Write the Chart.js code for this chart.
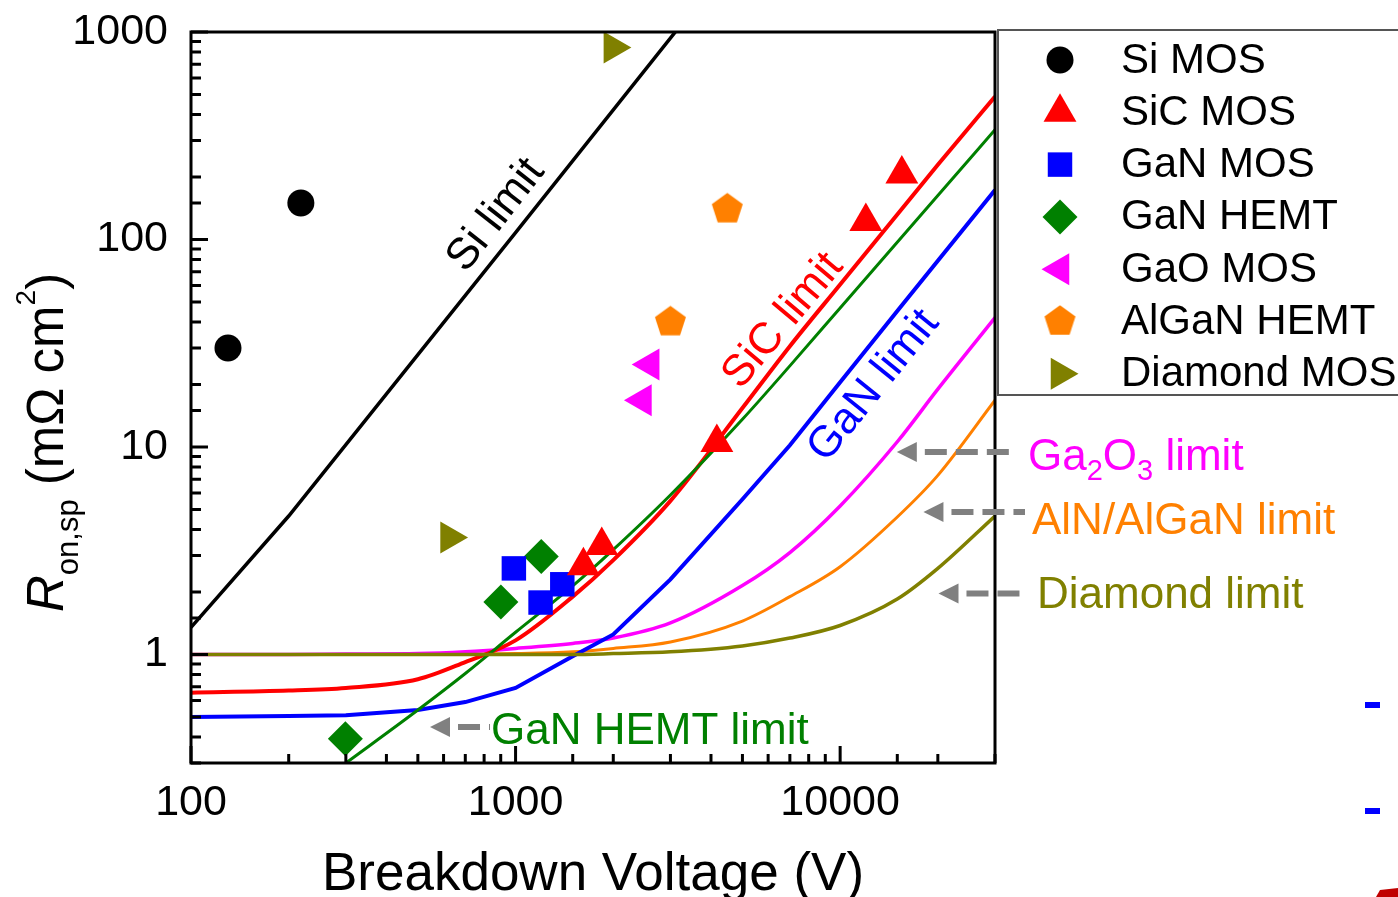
<!DOCTYPE html>
<html>
<head>
<meta charset="utf-8">
<title>Specific on-resistance vs breakdown voltage</title>
<script src="https://cdn.jsdelivr.net/npm/chart.js@4.4.1/dist/chart.umd.min.js"></script>
<style>
  html, body { margin: 0; padding: 0; background: #fff; overflow: hidden; }
  #wrap { width: 1398px; height: 897px; }
</style>
</head>
<body>
<div id="wrap"><canvas id="myChart" width="1398" height="897"></canvas></div>
<script>
// limit curves (V, mOhm cm2)
let limitV = [100, 200, 300, 500, 700, 1000, 1500, 2000, 3000, 5000, 7000, 10000, 15000, 20000, 30000];
let sicLimit = [0.655, 0.67, 0.69, 0.76, 0.92, 1.17, 1.9, 2.85, 5.5, 15.4, 30.6, 60.7, 132, 229, 488];
let ganLimit = [0.5, 0.505, 0.51, 0.54, 0.59, 0.69, 0.98, 1.25, 2.3, 5.6, 10.2, 20.5, 45.2, 79, 173];
let ga2o3Limit = [1.0, 1.0, 1.005, 1.01, 1.03, 1.07, 1.13, 1.2, 1.42, 2.15, 3.1, 5.2, 10.6, 19.0, 42];
let alnLimit = [1.0, 1.0, 1.0, 1.0, 1.005, 1.01, 1.03, 1.07, 1.15, 1.45, 1.9, 2.65, 4.6, 7.3, 16.8];
let diamondLimit = [1.0, 1.0, 1.0, 1.0, 1.0, 1.0, 1.0, 1.01, 1.03, 1.1, 1.2, 1.38, 1.85, 2.6, 4.65];

let siLimitV = [100, 200, 1000, 5000];
let siLimit = [1.35, 4.65, 108, 2550];

let ganHemtLimitV = [300, 500, 700, 1000, 1500, 2000, 3000, 5000, 7000, 10000, 20000, 30000];
let ganHemtLimit = [0.3, 0.54, 0.81, 1.28, 2.14, 3.2, 5.87, 13.6, 24.6, 46.8, 163, 338];

// reported devices
let siMosV = [130, 218];
let siMosR = [30, 150];
let sicMosV = [1618, 1843, 4170, 12000, 15490];
let sicMosR = [2.68, 3.35, 10.5, 122, 207];
let ganMosV = [988, 1194, 1393];
let ganMosR = [2.6, 1.78, 2.18];
let ganHemtV = [299, 901, 1200];
let ganHemtR = [0.393, 1.79, 2.97];
let gaoMosV = [2460, 2599];
let gaoMosR = [16.8, 25.0];
let alganHemtV = [3000, 4490];
let alganHemtR = [40, 140];
let diamondMosV = [626, 1994];
let diamondMosR = [3.66, 842];

let xTicks = { min: 100, max: 30000 };
let yTicks = { min: 0.3, max: 1000 };

function pts(xs, ys) {
    return xs.map((v, i) => ({ x: v, y: ys[i] }));
}

function makePentagon(r, color) {
    let c = document.createElement('canvas');
    c.width = c.height = Math.ceil(2 * r + 2);
    let g = c.getContext('2d');
    let cx = c.width / 2, cy = c.height / 2;
    g.fillStyle = color;
    g.beginPath();
    for (let i = 0; i < 5; i++) {
        let a = -Math.PI / 2 + i * 2 * Math.PI / 5;
        g.lineTo(cx + r * Math.cos(a), cy + r * Math.sin(a));
    }
    g.closePath();
    g.fill();
    return c;
}

function marker(label, xs, ys, color, style, radius, rotation) {
    return {
        label: label,
        data: pts(xs, ys),
        showLine: false,
        pointStyle: style,
        pointRadius: radius,
        pointRotation: rotation || 0,
        pointBackgroundColor: color,
        pointBorderColor: color,
        pointBorderWidth: 0,
        backgroundColor: color
    };
}

function limitLine(label, xs, ys, color, width, smooth) {
    return {
        label: label,
        data: pts(xs, ys),
        showLine: true,
        borderColor: color,
        borderWidth: width,
        pointRadius: 0,
        fill: false,
        cubicInterpolationMode: smooth ? 'monotone' : 'default',
        tension: 0
    };
}

Chart.defaults.font.family = '"Liberation Sans", Arial, sans-serif';
Chart.defaults.color = '#000';

const FONT = '"Liberation Sans", Arial, sans-serif';

function isDecade(v) {
    let l = Math.log10(v);
    return Math.abs(l - Math.round(l)) < 1e-6;
}

function drawRich(ctx, parts, x, y) {
    let cx = x;
    parts.forEach(p => {
        ctx.font = p.font;
        ctx.fillText(p.t, cx, y + (p.dy || 0));
        cx += ctx.measureText(p.t).width;
    });
}

function arrow(ctx, tipX, y, tailX) {
    ctx.fillStyle = '#808080';
    ctx.beginPath();
    ctx.moveTo(tipX, y);
    ctx.lineTo(tipX + 20, y - 10);
    ctx.lineTo(tipX + 20, y + 10);
    ctx.closePath();
    ctx.fill();
    ctx.strokeStyle = '#808080';
    ctx.lineWidth = 6;
    ctx.setLineDash([22, 9]);
    ctx.beginPath();
    ctx.moveTo(tipX + 28, y);
    ctx.lineTo(tailX, y);
    ctx.stroke();
    ctx.setLineDash([]);
}

function rotLabel(ctx, text, x, y, deg, color) {
    ctx.save();
    ctx.translate(x, y);
    ctx.rotate(deg * Math.PI / 180);
    ctx.fillStyle = color;
    ctx.font = '44px ' + FONT;
    ctx.textAlign = 'center';
    ctx.textBaseline = 'middle';
    ctx.fillText(text, 0, 0);
    ctx.restore();
}

const decorPlugin = {
    id: 'decor',
    afterDraw(chart) {
        const { ctx, chartArea: a, scales: { x, y } } = chart;
        ctx.save();

        // frame and inward ticks
        ctx.strokeStyle = '#000';
        ctx.lineWidth = 3;
        ctx.strokeRect(a.left, a.top, a.right - a.left, a.bottom - a.top);
        ctx.beginPath();
        x.ticks.forEach(t => {
            let px = x.getPixelForValue(t.value);
            let len = isDecade(t.value) ? 17 : 9;
            ctx.moveTo(px, a.bottom);
            ctx.lineTo(px, a.bottom - len);
        });
        y.ticks.forEach(t => {
            let py = y.getPixelForValue(t.value);
            let len = isDecade(t.value) ? 17 : 10;
            ctx.moveTo(a.left, py);
            ctx.lineTo(a.left + len, py);
        });
        ctx.stroke();

        // axis titles
        ctx.fillStyle = '#000';
        ctx.textAlign = 'center';
        ctx.textBaseline = 'alphabetic';
        ctx.font = '53px ' + FONT;
        ctx.fillText('Breakdown Voltage (V)', (a.left + a.right) / 2, 890);

        ctx.save();
        ctx.translate(63, 612);
        ctx.rotate(-Math.PI / 2);
        ctx.textAlign = 'left';
        drawRich(ctx, [
            { t: 'R', font: 'italic 51px ' + FONT },
            { t: 'on,sp', font: '31px ' + FONT, dy: 15 },
            { t: ' (m\u03A9 cm', font: '51px ' + FONT },
            { t: '2', font: '28px ' + FONT, dy: -28 },
            { t: ')', font: '51px ' + FONT }
        ], 0, 0);
        ctx.restore();

        // labels on the limit lines
        rotLabel(ctx, 'Si limit', x.getPixelForValue(871), y.getPixelForValue(131), -52, '#000');
        rotLabel(ctx, 'SiC limit', x.getPixelForValue(6673), y.getPixelForValue(40.5), -50, '#FF0000');
        rotLabel(ctx, 'GaN limit', x.getPixelForValue(12700), y.getPixelForValue(19.7), -51, '#0000FF');

        // arrows pointing at curves
        let t1 = y.getPixelForValue(9.46);
        arrow(ctx, x.getPixelForValue(14950), t1, 1015);
        let t2 = y.getPixelForValue(4.86);
        arrow(ctx, x.getPixelForValue(18060), t2, 1025);
        let t3 = y.getPixelForValue(1.97);
        arrow(ctx, x.getPixelForValue(20090), t3, 1027);
        let t4 = y.getPixelForValue(0.447);
        arrow(ctx, x.getPixelForValue(545), t4, 490);

        ctx.textAlign = 'left';
        ctx.textBaseline = 'alphabetic';
        ctx.fillStyle = '#FF00FF';
        drawRich(ctx, [
            { t: 'Ga', font: '44px ' + FONT },
            { t: '2', font: '29px ' + FONT, dy: 10 },
            { t: 'O', font: '44px ' + FONT },
            { t: '3', font: '29px ' + FONT, dy: 10 },
            { t: ' limit', font: '44px ' + FONT }
        ], 1028, 470);
        ctx.font = '44px ' + FONT;
        ctx.fillStyle = '#FF8000';
        ctx.fillText('AlN/AlGaN limit', 1032, 534);
        ctx.fillStyle = '#808000';
        ctx.fillText('Diamond limit', 1037, 608);
        ctx.fillStyle = '#008000';
        ctx.fillText('GaN HEMT limit', 491, 743.5);

        // legend
        ctx.strokeStyle = '#555';
        ctx.lineWidth = 2;
        ctx.strokeRect(998, 30, 440, 365);
        const drawPoint = Chart.helpers && Chart.helpers.drawPoint;
        ctx.font = '42px ' + FONT;
        ctx.textBaseline = 'middle';
        chart.data.datasets.forEach((ds, i) => {
            if (ds.showLine) return;
            let ly = 60 + i * 52.3;
            if (drawPoint) {
                ctx.fillStyle = ds.pointBackgroundColor;
                ctx.strokeStyle = ds.pointBackgroundColor;
                drawPoint(ctx, {
                    pointStyle: ds.pointStyle,
                    radius: ds.pointRadius,
                    rotation: ds.pointRotation,
                    borderWidth: 0
                }, 1060, ly);
            }
            ctx.fillStyle = '#000';
            ctx.fillText(ds.label, 1121, ly + 1);
        });

        // edges of the neighbouring figure
        ctx.fillStyle = '#0000FF';
        ctx.fillRect(1365, 702, 15, 6);
        ctx.fillRect(1365, 808, 15, 6);
        ctx.fillStyle = '#C00000';
        ctx.beginPath();
        ctx.moveTo(1376, 897);
        ctx.lineTo(1380, 890);
        ctx.lineTo(1398, 888);
        ctx.lineTo(1398, 897);
        ctx.closePath();
        ctx.fill();

        ctx.restore();
    }
};

let tickLabel = value => isDecade(value) ? String(Math.round(value * 1000) / 1000) : '';

let myChart = document.getElementById('myChart').getContext('2d');
let chart = new Chart(myChart, {
    type: 'scatter',
    data: {
        datasets: [
            marker('Si MOS', siMosV, siMosR, '#000000', 'circle', 13.5),
            marker('SiC MOS', sicMosV, sicMosR, '#FF0000', 'triangle', 19),
            marker('GaN MOS', ganMosV, ganMosR, '#0000FF', 'rect', 17.3),
            marker('GaN HEMT', ganHemtV, ganHemtR, '#008000', 'rectRot', 17.5),
            marker('GaO MOS', gaoMosV, gaoMosR, '#FF00FF', 'triangle', 18.5, -90),
            marker('AlGaN HEMT', alganHemtV, alganHemtR, '#FF8000', makePentagon(16.3, '#FF8000'), 16.3),
            marker('Diamond MOS', diamondMosV, diamondMosR, '#808000', 'triangle', 18.5, 90),
            limitLine('Diamond limit', limitV, diamondLimit, '#808000', 3.5, true),
            limitLine('GaN HEMT limit', ganHemtLimitV, ganHemtLimit, '#008000', 3, true),
            limitLine('SiC limit', limitV, sicLimit, '#FF0000', 4, true),
            limitLine('GaN limit', limitV, ganLimit, '#0000FF', 4, false),
            limitLine('Ga2O3 limit', limitV, ga2o3Limit, '#FF00FF', 3.5, true),
            limitLine('AlN/AlGaN limit', limitV, alnLimit, '#FF8000', 3, true),
            limitLine('Si limit', siLimitV, siLimit, '#000000', 3.5, false)
        ]
    },
    options: {
        responsive: false,
        animation: false,
        events: [],
        layout: { padding: { left: 0, top: 32, right: 403, bottom: 0 } },
        plugins: {
            legend: { display: false },
            tooltip: { enabled: false }
        },
        scales: {
            x: {
                type: 'logarithmic',
                min: xTicks.min,
                max: xTicks.max,
                grid: { display: false, drawTicks: false },
                border: { display: false },
                ticks: { autoSkip: false, maxRotation: 0, padding: 14, color: '#000', font: { size: 43 }, callback: tickLabel },
                afterFit: s => { s.height = 134; }
            },
            y: {
                type: 'logarithmic',
                min: yTicks.min,
                max: yTicks.max,
                grid: { display: false, drawTicks: false },
                border: { display: false },
                ticks: { autoSkip: false, padding: 23, color: '#000', font: { size: 43 }, callback: tickLabel },
                afterFit: s => { s.width = 191; s.paddingTop = 0; s.paddingBottom = 0; }
            }
        }
    },
    plugins: [decorPlugin]
});
</script>
</body>
</html>
